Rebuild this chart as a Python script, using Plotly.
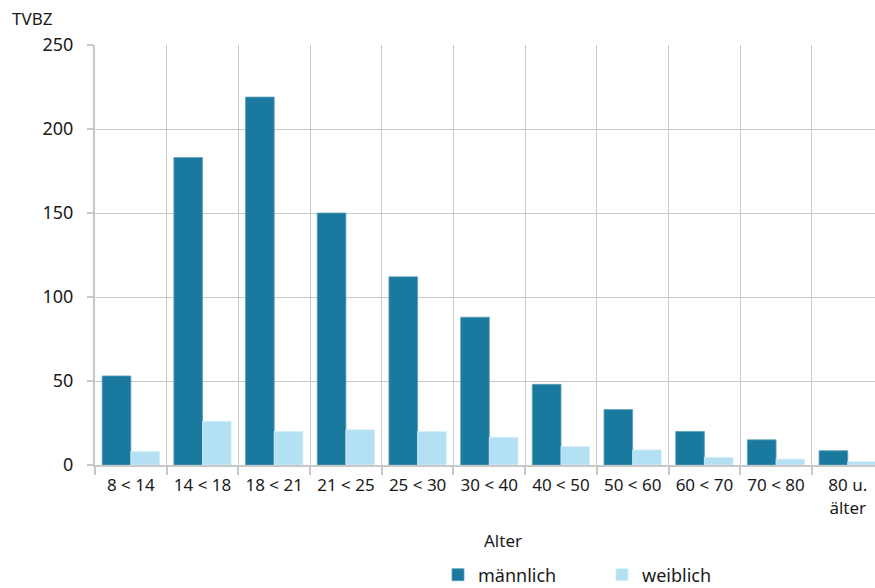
import plotly.graph_objects as go

categories = ["8 < 14", "14 < 18", "18 < 21", "21 < 25", "25 < 30", "30 < 40",
              "40 < 50", "50 < 60", "60 < 70", "70 < 80", "80 u.<br>älter"]
maennlich = [53, 183, 219, 150, 112, 88, 48, 33, 20, 15, 8.5]
weiblich = [8, 26, 20, 21, 20, 16.5, 11, 9, 4.5, 3.5, 2]
y_ticks = [0, 50, 100, 150, 200, 250]

FONT = "Noto Sans"
GRID = "#c8c8c8"

fig = go.Figure()
fig.add_trace(go.Bar(x=categories, y=maennlich, name="männlich",
                     marker=dict(color="#1a799f", line=dict(width=0.8, color="#5f9fba"))))
fig.add_trace(go.Bar(x=categories, y=weiblich, name="weiblich",
                     marker=dict(color="#b3e1f3", line=dict(width=0.8, color="#d4eef8"))))

fig.update_layout(
    width=875, height=588,
    margin=dict(l=95, r=0, t=45, b=123, autoexpand=False),
    paper_bgcolor="white", plot_bgcolor="white",
    barmode="group", bargap=0.2, bargroupgap=0,
    font=dict(family=FONT, size=17, color="#1a1a1a"),
    showlegend=True,
    legend=dict(orientation="h", x=(438 - 95) / 780, y=-110 / 420,
                xanchor="left", yanchor="middle",
                entrywidth=119, itemwidth=30, font=dict(size=18),
                traceorder="normal"),
    xaxis=dict(
        type="category", range=[-0.5, 10.38], automargin=False,
        tickson="boundaries", showgrid=True, gridcolor=GRID, gridwidth=1.2,
        ticks="outside", ticklen=8, tickcolor=GRID, tickwidth=1.5,
        showline=True, linecolor=GRID, linewidth=2,
        tickfont=dict(size=17), ticklabelstandoff=4,
    ),
    yaxis=dict(
        range=[0, 250], tickvals=y_ticks, automargin=False,
        showgrid=True, gridcolor=GRID, gridwidth=1.2,
        ticks="outside", ticklen=6, tickcolor=GRID, tickwidth=1.5,
        showline=True, linecolor=GRID, linewidth=2,
        tickfont=dict(size=18), zeroline=False, ticklabelstandoff=10,
    ),
    annotations=[
        dict(text="TVBZ", x=-85 / 780, y=1 + 27 / 420,
             xref="paper", yref="paper", xanchor="left", yanchor="middle",
             showarrow=False, font=dict(size=17)),
        dict(text="Alter", x=(503 - 95) / 780, y=-75 / 420,
             xref="paper", yref="paper", xanchor="center", yanchor="middle",
             showarrow=False, font=dict(size=17)),
    ],
)

fig.write_html("out.html", post_script="document.body.style.margin='0';",
               config={"displayModeBar": False})
